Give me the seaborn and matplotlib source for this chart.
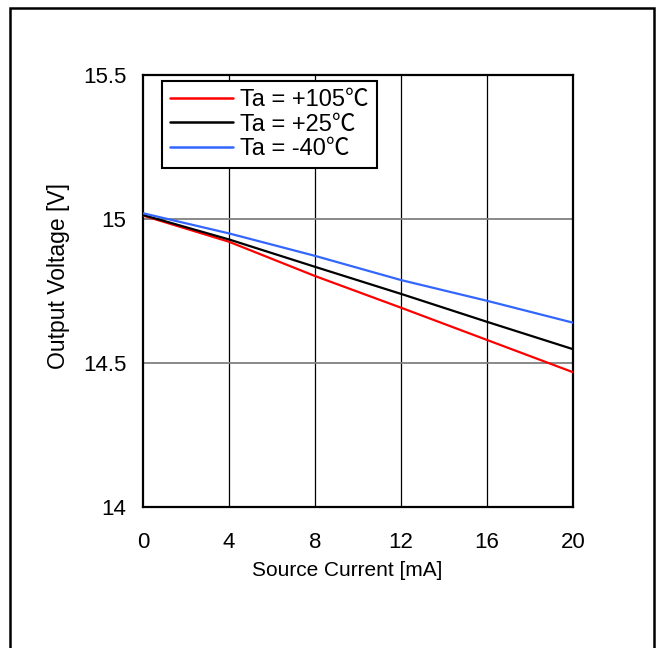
import numpy as np
import pandas as pd
import matplotlib
matplotlib.use("Agg")
import matplotlib.pyplot as plt
import seaborn as sns
from matplotlib.patches import Rectangle

# Values
source_current = [0, 4, 8, 12, 16, 20]
v_105c = [15.012, 14.921, 14.802, 14.692, 14.580, 14.468]
v_25c = [15.014, 14.929, 14.834, 14.740, 14.643, 14.548]
v_m40c = [15.020, 14.950, 14.872, 14.788, 14.716, 14.640]
series_labels = ["Ta = +105\u2103", "Ta = +25\u2103", "Ta = -40\u2103"]
series_colors = ["#ff0000", "#000000", "#3366ff"]

x_ticks = [0, 4, 8, 12, 16, 20]
y_ticks = [14, 14.5, 15, 15.5]
y_tick_labels = ["14", "14.5", "15", "15.5"]

sns.set_style("white")
plt.rcParams["font.family"] = ["Liberation Sans", "Noto Sans CJK JP", "DejaVu Sans"]
plt.rcParams["text.color"] = "black"
plt.rcParams["axes.labelcolor"] = "black"
plt.rcParams["xtick.color"] = "black"
plt.rcParams["ytick.color"] = "black"

df = pd.DataFrame({
    "current": source_current * 3,
    "voltage": v_105c + v_25c + v_m40c,
    "series": [series_labels[0]] * 6 + [series_labels[1]] * 6 + [series_labels[2]] * 6,
})

fig = plt.figure(figsize=(6.61, 6.48), dpi=100)
ax = fig.add_axes([143 / 661, 1 - 507 / 648, 430 / 661, 432 / 648])

# grid: vertical black, horizontal gray
for xv in x_ticks[1:-1]:
    ax.axvline(xv, color="black", lw=0.9, zorder=1)
for yv in y_ticks[1:-1]:
    ax.axhline(yv, color="#808080", lw=1.3, zorder=1)

sns.lineplot(data=df, x="current", y="voltage", hue="series",
             palette=dict(zip(series_labels, series_colors)),
             hue_order=series_labels, lw=1.6, ax=ax, zorder=3)

ax.set_xlim(0, 20)
ax.set_ylim(14, 15.5)
ax.set_xticks(x_ticks)
ax.set_yticks(y_ticks)
ax.set_yticklabels(y_tick_labels)
ax.tick_params(axis="both", labelsize=16, length=0)
ax.tick_params(axis="x", pad=18)
ax.tick_params(axis="y", pad=12)
ax.set_xlabel("Source Current [mA]", fontsize=15, labelpad=6)
ax.set_ylabel("Output Voltage [V]", fontsize=16.5, labelpad=9)
ax.xaxis.label.set_x(0.476)
ax.yaxis.label.set_y(0.535)
for sp in ax.spines.values():
    sp.set_color("black")
    sp.set_linewidth(1.6)

leg = ax.legend(loc="upper left", bbox_to_anchor=(0.044, 0.986), fontsize=17,
                frameon=True, fancybox=False, borderpad=0.35, labelspacing=0.1,
                handlelength=2.65, handletextpad=0.3, borderaxespad=0)
leg.get_frame().set_edgecolor("black")
leg.get_frame().set_linewidth(1.5)
leg.get_frame().set_alpha(1)
for line in leg.get_lines():
    line.set_linewidth(1.8)

# outer border of the figure
fig.patches.append(Rectangle((10 / 661, -0.02), 644 / 661, 1.02 - 8 / 648,
                             transform=fig.transFigure, fill=False,
                             edgecolor="black", lw=1.8))

fig.savefig("out.png", dpi=100, facecolor="white")
